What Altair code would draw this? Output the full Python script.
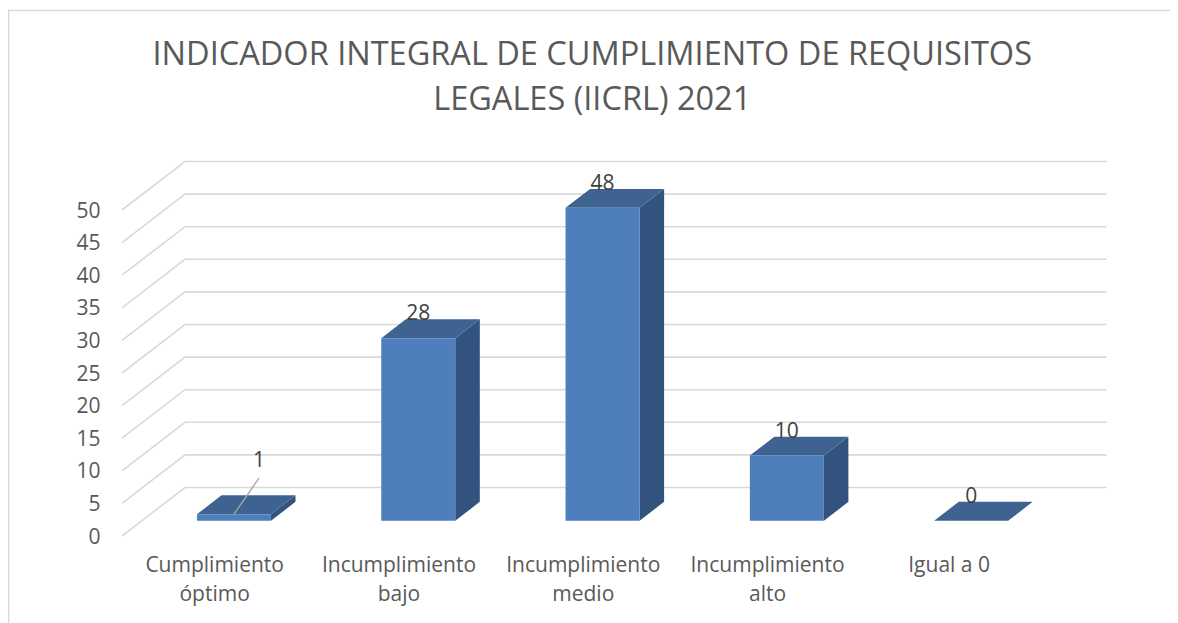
import altair as alt
import pandas as pd

categories = ["Cumplimiento óptimo", "Incumplimiento bajo", "Incumplimiento medio", "Incumplimiento alto", "Igual a 0"]
values = [1, 28, 48, 10, 0]
tick_values = [0, 5, 10, 15, 20, 25, 30, 35, 40, 45, 50]
title_lines = ["INDICADOR INTEGRAL DE CUMPLIMIENTO DE REQUISITOS", "LEGALES (IICRL) 2021"]

FONT = "Open Sans"
LABEL_SIZE = 21
BAND_PX = 184.3
UNIT_PX = 6.52
WALL_X = 63 / BAND_PX      # oblique projection of the full chart depth
WALL_Y = 48.5 / UNIT_PX
BAR_W = 74 / BAND_PX
D0, D1 = 0.3144, 0.7040    # bar front / back in chart depth
PLOT_W = 5 * BAND_PX + 63
PLOT_H = (50 * UNIT_PX) + 48.5
SVG_W, SVG_H = 1162, 615


def px(i, depth):
    return i + depth * WALL_X


def py(v, depth):
    return v + depth * WALL_Y


grid = []
for t in tick_values:
    grid += [
        {"t": t, "o": 0, "x": 0, "y": py(t, 0)},
        {"t": t, "o": 1, "x": WALL_X, "y": py(t, 1)},
        {"t": t, "o": 2, "x": 5 + WALL_X, "y": py(t, 1)},
    ]

front, side, top, labels = [], [], [], []
for i, (c, v) in enumerate(zip(categories, values)):
    left = px(i + 0.5 - BAR_W / 2, D0)
    right = left + BAR_W
    front.append({"c": c, "x": left, "x2": right, "y": py(0, D0), "y2": py(v, D0)})
    side += [
        {"c": c, "x": right, "y": py(0, D0), "y2": py(v, D0)},
        {"c": c, "x": right + (D1 - D0) * WALL_X, "y": py(0, D1), "y2": py(v, D1)},
    ]
    top += [
        {"c": c, "y": py(v, D0), "x": left, "x2": right},
        {"c": c, "y": py(v, D1), "x": left + (D1 - D0) * WALL_X, "x2": right + (D1 - D0) * WALL_X},
    ]
    labels.append({"c": c, "v": v, "x": (left + right) / 2, "y": py(v, D0)})

xs = alt.Scale(domain=[0, 5 + WALL_X], nice=False, zero=False)
ys = alt.Scale(domain=[0, 50 + WALL_Y], nice=False, zero=False)
axis_x = alt.Axis(
    values=[0.5, 1.5, 2.5, 3.5, 4.485],
    labelExpr="[['Cumplimiento','óptimo'],['Incumplimiento','bajo'],['Incumplimiento','medio'],"
              "['Incumplimiento','alto'],['Igual a 0']][floor(datum.value)]",
    domain=False, ticks=False, grid=False, title=None, labelFont=FONT, labelFontSize=LABEL_SIZE,
    labelColor="#595959", labelPadding=18.5, labelLineHeight=29, labelOverlap=False, labelFlush=False,
    labelBaseline="top")
axis_y = alt.Axis(
    values=tick_values, domain=False, ticks=False, grid=False, title=None, labelFont=FONT,
    labelFontSize=LABEL_SIZE, labelColor="#595959", labelPadding=22, labelOffset=1)
X = alt.X("x:Q", scale=xs, axis=axis_x)
Y = alt.Y("y:Q", scale=ys, axis=axis_y)

# chart frame (left and top edge)
frame_left = alt.Chart(pd.DataFrame({"a": [0]})).mark_rule(color="#d9d9d9", strokeWidth=1.7).encode(
    x=alt.value(-113.5), y=alt.value(-152), y2=alt.value(470))
frame_top = alt.Chart(pd.DataFrame({"a": [0]})).mark_rule(color="#d9d9d9", strokeWidth=1.3).encode(
    y=alt.value(-151), x=alt.value(-114), x2=alt.value(1056))

grid_l = alt.Chart(pd.DataFrame(grid)).mark_line(color="#d9d9d9", strokeWidth=1.6, clip=False).encode(
    x=X, y=Y, order="o:Q", detail="t:N")

front_l = alt.Chart(pd.DataFrame(front)).mark_rect(color="#4E7FBC").encode(
    x=X, x2="x2:Q", y=Y, y2="y2:Q")
side_l = alt.Chart(pd.DataFrame(side)).mark_area(color="#32537D").encode(
    x=X, y=Y, y2="y2:Q", detail="c:N")
top_l = alt.Chart(pd.DataFrame(top)).mark_area(orient="horizontal", color="#3E6391").encode(
    y=Y, x=X, x2="x2:Q", detail="c:N")

lab = pd.DataFrame(labels)
text_main = alt.Chart(lab[lab.v != 1]).mark_text(
    font=FONT, fontSize=LABEL_SIZE, color="#404040", dy=-24, baseline="middle").encode(x=X, y=Y, text="v:Q")
text_one = alt.Chart(lab[lab.v == 1]).mark_text(
    font=FONT, fontSize=LABEL_SIZE, color="#404040", dx=25, dy=-53, baseline="middle").encode(x=X, y=Y, text="v:Q")
leader = pd.DataFrame([
    {"x": labels[0]["x"], "y": labels[0]["y"]},
    {"x": labels[0]["x"] + 25 / BAND_PX, "y": labels[0]["y"] + 36 / UNIT_PX},
])
leader_l = alt.Chart(leader).mark_line(color="#a6a6a6", strokeWidth=1.3).encode(x=X, y=Y)

chart = alt.layer(
    grid_l, side_l, top_l, front_l, leader_l, text_main, text_one, frame_left, frame_top
).properties(
    width=PLOT_W,
    height=PLOT_H,
    title=alt.TitleParams(text=title_lines, font=FONT, fontSize=32.5, fontWeight="normal", color="#595959",
                          lineHeight=45, anchor="middle", frame="group", dx=-22, offset=-108),
    autosize=alt.AutoSizeParams(type="none"),
    padding={"left": 114, "top": 153.5, "right": SVG_W - 114 - PLOT_W, "bottom": SVG_H - 153.5 - PLOT_H},
).configure_view(stroke=None)

chart.save("out.html", embed_options={"renderer": "svg", "actions": False})
